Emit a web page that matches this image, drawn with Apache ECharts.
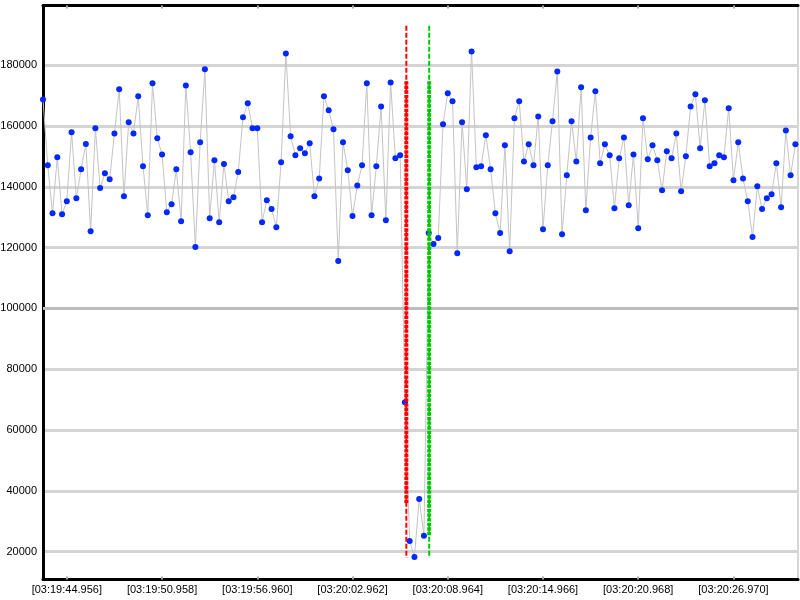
<!DOCTYPE html>
<html><head><meta charset="utf-8">
<script src="https://cdn.jsdelivr.net/npm/echarts@6/dist/echarts.min.js"></script>
<style>html,body{margin:0;padding:0;background:#fff}#c{width:800px;height:600px}</style>
</head><body><div id="c"></div>
<script>
// sample values (one per sample, in order)
const values = [
168800,147100,131300,149800,131000,135300,158000,136300,145800,154100,
125400,159300,139600,144500,142500,157600,172100,136900,161300,157600,
169800,146800,130700,174100,156000,150700,131700,134300,145800,128700,
173400,151400,120200,154700,178700,129700,148800,128400,147500,135300,
136600,144900,162900,167500,159300,159300,128400,135600,132700,126700,
148100,183900,156700,150400,152700,151100,154400,136900,142800,169800,
165200,159000,115600,154700,145500,130400,140500,147100,174100,130700,
146800,166500,129000,174400,149400,150400,69100,23500,18200,37300,
25200,124800,121200,123200,160600,170800,168200,118200,161300,139200,
184600,146500,146800,157000,145800,131300,124800,153700,118800,162600,
168200,148400,154000,147100,163200,126100,147100,161600,178000,124400,
143800,161600,148400,172800,132300,156300,171500,147800,154000,150400,
133000,149400,156300,134000,150700,126400,162600,149100,153700,148800,
138900,151700,149400,157600,138600,150100,166500,170500,152700,168500,
146800,147800,150400,149800,165900,142200,154700,142800,135300,123500,
140200,132700,136300,137600,147800,133300,158600,143800,154000
];
// x tick positions (sample number) and their labels
const tickSamples = [5,25,45,65,85,105,125,145];
const tickLabels = ['[03:19:44.956]','[03:19:50.958]','[03:19:56.960]','[03:20:02.962]',
                    '[03:20:08.964]','[03:20:14.966]','[03:20:20.968]','[03:20:26.970]'];
const yTicks = [20000,40000,60000,80000,100000,120000,140000,160000,180000];
const refLineValue = [100000];
// vertical markers: position (sample), colours, full dashed span, dotted span
const markerSamples = [76.3, 81.1];
const markerColors = ['#ff0000', '#00c800'];
const markerSpanTop = [193000, 193000];
const markerSpanBottom = [17900, 17900];
const markerDotTop = [174800, 174800];
const markerDotBottom = [36000, 25000];

const FONT = 'Liberation Sans';
const chart = echarts.init(document.getElementById('c'), null, {renderer: 'canvas'});

const series = [
  {
    type: 'line', xAxisIndex: 0, yAxisIndex: 0, z: 1, silent: true,
    data: [],
    markLine: {
      silent: true, symbol: 'none', label: {show: false},
      lineStyle: {color: '#bdbdbd', width: 3, type: 'solid'},
      data: refLineValue.map(v => ({yAxis: v}))
    }
  },
  {
    type: 'line', xAxisIndex: 0, yAxisIndex: 0, z: 3,
    data: values.map((v, i) => [i, v]),
    symbol: 'circle', symbolSize: 6, showAllSymbol: true,
    itemStyle: {color: '#0028ff'},
    lineStyle: {color: '#c4c4c4', width: 1},
    emphasis: {disabled: true}
  }
];
markerSamples.forEach((x, k) => {
  series.push({
    type: 'line', z: 5, symbol: 'none', silent: true,
    data: [[x, markerSpanTop[k]], [x, markerSpanBottom[k]]],
    lineStyle: {color: markerColors[k], width: 2, type: [5, 2]}
  });
  series.push({
    type: 'line', z: 6, symbol: 'none', silent: true,
    data: [[x, markerDotTop[k]], [x, markerDotBottom[k]]],
    lineStyle: {color: markerColors[k], width: 4, type: [3.3, 1.3]}
  });
});

const xCommon = {
  type: 'value', min: 0, max: 158.55,
  splitLine: {show: false},
  axisLine: {show: true, onZero: false, lineStyle: {color: '#000', width: 3}},
  axisTick: {show: true, inside: true, length: 3, customValues: tickSamples,
             lineStyle: {color: '#a8a8a8', width: 2}},
};

chart.setOption({
  animation: false,
  backgroundColor: '#fff',
  grid: {left: 43, right: 2, top: 5.5, bottom: 20.5, containLabel: false, outerBoundsMode: 'none'},
  xAxis: [
    Object.assign({}, xCommon, {
      position: 'bottom',
      axisLabel: {show: true, customValues: tickSamples, color: '#000', fontFamily: FONT, fontSize: 11, margin: 5,
        formatter: v => tickLabels[tickSamples.indexOf(Math.round(v))] || ''}
    }),
    Object.assign({}, xCommon, {position: 'top', axisLabel: {show: false}})
  ],
  yAxis: [
    {
      type: 'value', min: 10800, max: 199700, position: 'left',
      axisLine: {show: true, onZero: false, lineStyle: {color: '#000', width: 3}},
      axisTick: {show: false, customValues: yTicks},
      axisLabel: {show: true, customValues: yTicks, color: '#000', fontFamily: FONT, fontSize: 11, margin: 6,
        formatter: v => String(Math.round(v))},
      splitLine: {show: true, lineStyle: {color: '#d4d4d4', width: 3}}
    },
    {
      type: 'value', min: 10800, max: 199700, position: 'right',
      axisLine: {show: true, onZero: false, lineStyle: {color: '#d6d6d6', width: 2}},
      axisTick: {show: false}, axisLabel: {show: false}, splitLine: {show: false}
    }
  ],
  series: series
});
</script>
</body></html>
